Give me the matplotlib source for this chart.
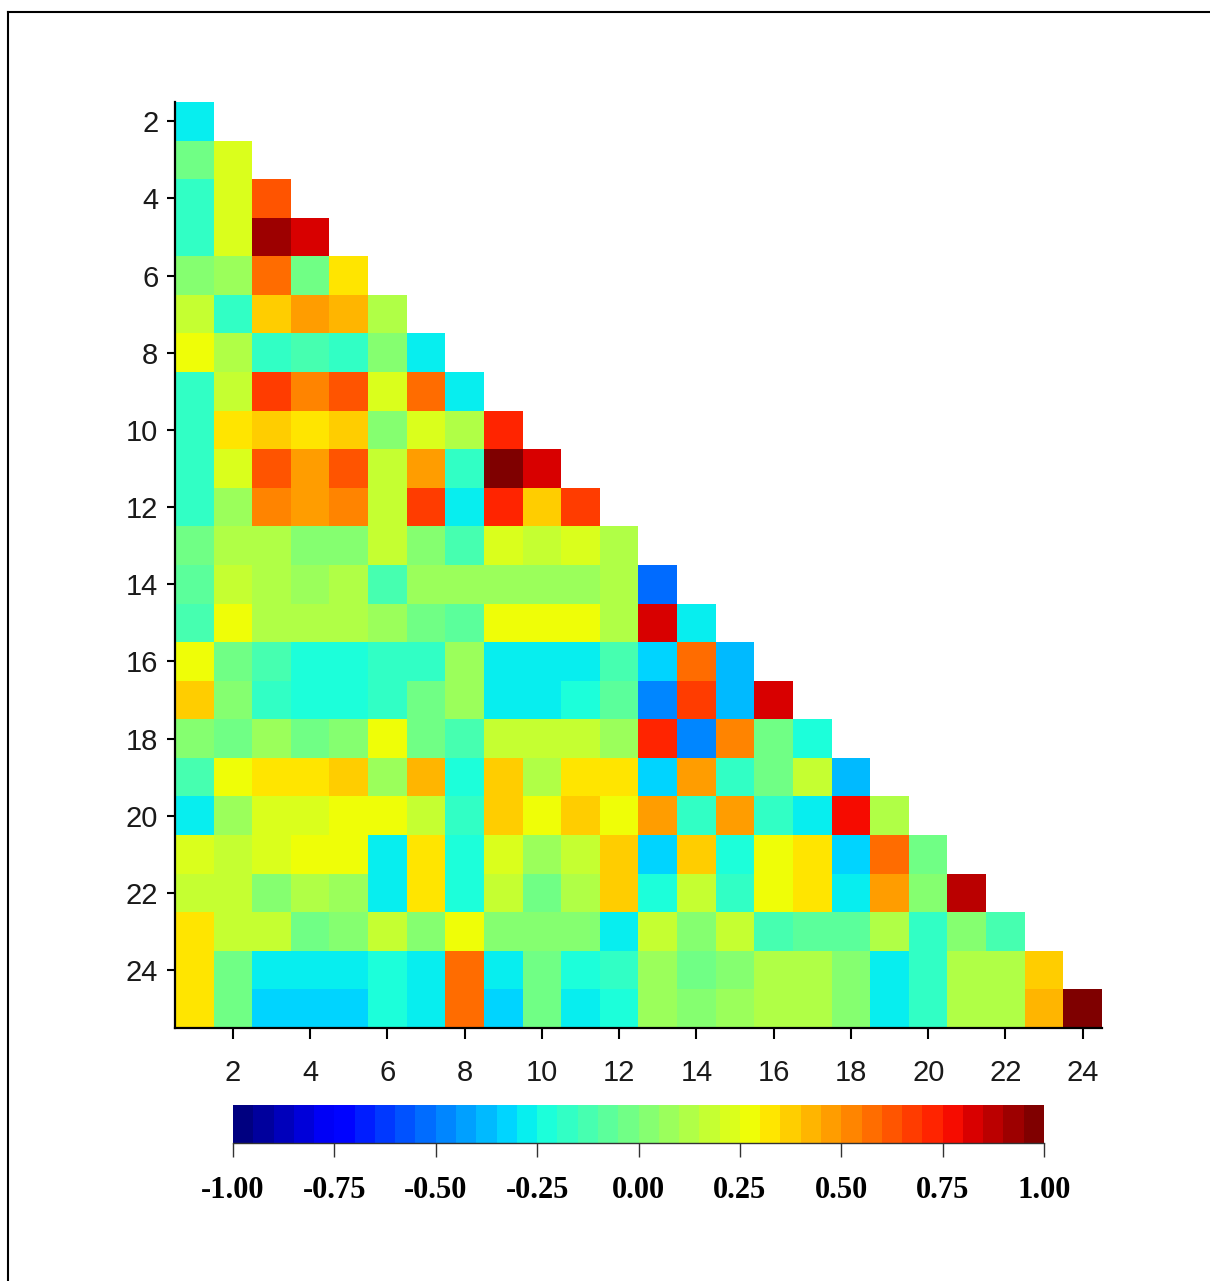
import numpy as np
import matplotlib
matplotlib.use("Agg")
import matplotlib.pyplot as plt
from matplotlib.colors import Normalize
from matplotlib.lines import Line2D

# ---- data: lower-triangular correlation matrix (row i has columns 1..i-1)
row_ids = list(range(2, 26))
col_ids = list(range(1, 25))
r02 = [-0.27]
r03 = [-0.02, 0.22]
r04 = [-0.17, 0.22, 0.62]
r05 = [-0.17, 0.22, 0.92, 0.82]
r06 = [0.02, 0.07, 0.57, -0.02, 0.32]
r07 = [0.17, -0.17, 0.37, 0.47, 0.42, 0.12]
r08 = [0.27, 0.12, -0.17, -0.12, -0.17, 0.02, -0.27]
r09 = [-0.17, 0.17, 0.67, 0.52, 0.62, 0.22, 0.57, -0.27]
r10 = [-0.17, 0.32, 0.37, 0.32, 0.37, 0.02, 0.22, 0.12, 0.72]
r11 = [-0.17, 0.22, 0.62, 0.47, 0.62, 0.17, 0.47, -0.17, 0.97, 0.82]
r12 = [-0.17, 0.07, 0.52, 0.47, 0.52, 0.17, 0.67, -0.27, 0.72, 0.37, 0.67]
r13 = [-0.02, 0.12, 0.12, 0.02, 0.02, 0.17, 0.02, -0.12, 0.22, 0.17, 0.22, 0.12]
r14 = [-0.07, 0.17, 0.12, 0.07, 0.12, -0.12, 0.07, 0.07, 0.07, 0.07, 0.07, 0.12,
       -0.52]
r15 = [-0.12, 0.27, 0.12, 0.12, 0.12, 0.07, -0.02, -0.07, 0.27, 0.27, 0.27, 0.12,
       0.82, -0.27]
r16 = [0.27, -0.02, -0.12, -0.22, -0.22, -0.17, -0.17, 0.07, -0.27, -0.27, -0.27,
       -0.12, -0.32, 0.57, -0.37]
r17 = [0.37, 0.02, -0.17, -0.22, -0.22, -0.17, -0.02, 0.07, -0.27, -0.27, -0.22,
       -0.07, -0.47, 0.67, -0.37, 0.82]
r18 = [0.02, -0.02, 0.07, -0.02, 0.02, 0.27, -0.02, -0.12, 0.17, 0.17, 0.17,
       0.07, 0.72, -0.47, 0.52, -0.02, -0.22]
r19 = [-0.12, 0.27, 0.32, 0.32, 0.37, 0.07, 0.42, -0.22, 0.37, 0.12, 0.32,
       0.32, -0.32, 0.47, -0.17, -0.02, 0.17, -0.37]
r20 = [-0.27, 0.07, 0.22, 0.22, 0.27, 0.27, 0.17, -0.17, 0.37, 0.27, 0.37,
       0.27, 0.47, -0.17, 0.47, -0.17, -0.27, 0.77, 0.12]
r21 = [0.22, 0.17, 0.22, 0.27, 0.27, -0.27, 0.32, -0.22, 0.22, 0.07, 0.17,
       0.37, -0.32, 0.37, -0.22, 0.27, 0.32, -0.32, 0.57, -0.02]
r22 = [0.17, 0.17, 0.02, 0.12, 0.07, -0.27, 0.32, -0.22, 0.17, -0.02, 0.12,
       0.37, -0.22, 0.17, -0.17, 0.27, 0.32, -0.27, 0.47, 0.02, 0.87]
r23 = [0.32, 0.17, 0.17, -0.02, 0.02, 0.17, 0.02, 0.27, 0.02, 0.02, 0.02,
       -0.27, 0.17, 0.02, 0.17, -0.12, -0.07, -0.07, 0.12, -0.17, 0.02, -0.12]
r24 = [0.32, -0.02, -0.27, -0.27, -0.27, -0.22, -0.27, 0.57, -0.27, -0.02, -0.22,
       -0.17, 0.07, -0.02, 0.02, 0.12, 0.12, 0.02, -0.27, -0.17, 0.12, 0.12,
       0.37]
r25 = [0.32, -0.02, -0.32, -0.32, -0.32, -0.22, -0.27, 0.57, -0.32, -0.02, -0.27,
       -0.22, 0.07, 0.02, 0.07, 0.12, 0.12, 0.02, -0.27, -0.17, 0.12, 0.12,
       0.42, 0.97]
corr_rows = [r02, r03, r04, r05, r06, r07, r08, r09, r10, r11, r12, r13, r14,
             r15, r16, r17, r18, r19, r20, r21, r22, r23, r24, r25]
x_ticks = list(range(2, 25, 2))
y_ticks = list(range(2, 25, 2))
cbar_ticks = [-1.00, -0.75, -0.50, -0.25, 0.00, 0.25, 0.50, 0.75, 1.00]

# ---- build masked matrix
n_r, n_c = len(row_ids), len(col_ids)
M = np.full((n_r, n_c), np.nan)
for k, vals in enumerate(corr_rows):
    M[k, :len(vals)] = vals
M = np.ma.masked_invalid(M)

W, H = 1210, 1281
fig = plt.figure(figsize=(W / 100, H / 100), dpi=100)

def fx(px):
    return px / W

def fy(py):
    return 1 - py / H

ax = fig.add_axes([fx(175), fy(1028), fx(1102) - fx(175), fy(102) - fy(1028)])
cmap = plt.get_cmap('jet', 40)
norm = Normalize(vmin=-1, vmax=1)
im = ax.imshow(M, cmap=cmap, norm=norm, aspect='auto', interpolation='nearest',
               extent=(col_ids[0] - 0.5, col_ids[-1] + 0.5,
                       row_ids[-1] + 0.5, row_ids[0] - 0.5))
ax.set_xlim(col_ids[0] - 0.5, col_ids[-1] + 0.5)
ax.set_ylim(row_ids[-1] + 0.5, row_ids[0] - 0.5)
ax.set_xticks(x_ticks)
ax.set_yticks(y_ticks)
for s in ['top', 'right']:
    ax.spines[s].set_visible(False)
for s in ['left', 'bottom']:
    ax.spines[s].set_linewidth(1.6)
    ax.spines[s].set_color('black')
ax.tick_params(axis='y', direction='out', length=6, width=1.5, pad=6,
               labelsize=21)
ax.tick_params(axis='x', direction='out', length=8, width=1.5, pad=14,
               labelsize=21)
for lab in ax.get_xticklabels() + ax.get_yticklabels():
    lab.set_family('Liberation Sans')
    lab.set_color('#1a1a1a')

# ---- colorbar
cax = fig.add_axes([fx(233), fy(1143), fx(1044) - fx(233), fy(1105) - fy(1143)])
cb = fig.colorbar(im, cax=cax, orientation='horizontal', ticks=cbar_ticks)
cb.outline.set_visible(False)
cax.plot([0, 1], [0, 0], transform=cax.transAxes, color='#333333', lw=1,
         clip_on=False)
cax.tick_params(axis='x', direction='out', length=10, width=1, pad=14,
                labelsize=22, color='#333333')
cb.set_ticklabels(['%.2f' % t for t in cbar_ticks])
for lab in cax.get_xticklabels():
    lab.set_family('Liberation Serif')
    lab.set_fontweight('bold')

# ---- frame lines (top and left only)
fig.add_artist(Line2D([fx(8), 1], [fy(12), fy(12)], color='black', lw=1.5,
                      transform=fig.transFigure))
fig.add_artist(Line2D([fx(8), fx(8)], [fy(12), 0], color='black', lw=1.5,
                      transform=fig.transFigure))

fig.savefig('out.png', dpi=100, facecolor='white')
